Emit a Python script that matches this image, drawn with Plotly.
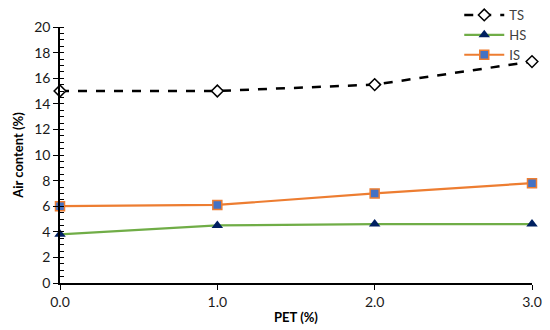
import plotly.graph_objects as go

pet = [0.0, 1.0, 2.0, 3.0]
ts = [15.0, 15.0, 15.5, 17.3]
hs = [3.8, 4.5, 4.6, 4.6]
is_ = [6.0, 6.1, 7.0, 7.8]

fig = go.Figure()
fig.add_trace(go.Scatter(x=pet, y=ts, name="TS", mode="lines+markers",
                         line=dict(color="black", width=2.5, dash="dash"),
                         marker=dict(symbol="diamond", size=9, color="white",
                                     line=dict(color="black", width=1.5)),
                         cliponaxis=False))
fig.add_trace(go.Scatter(x=pet, y=hs, name="HS", mode="lines+markers",
                         line=dict(color="#70AD47", width=2.2),
                         marker=dict(symbol="triangle-up", size=10, color="#002060"),
                         cliponaxis=False))
fig.add_trace(go.Scatter(x=pet, y=is_, name="IS", mode="lines+markers",
                         line=dict(color="#ED7D31", width=2.2),
                         marker=dict(symbol="square", size=9, color="#4472C4",
                                     line=dict(color="#ED7D31", width=1.5)),
                         cliponaxis=False))

font = "Lato, 'Liberation Sans', sans-serif"
fig.update_layout(
    width=550, height=330,
    margin=dict(l=60, r=18, t=27, b=47, autoexpand=False),
    plot_bgcolor="white", paper_bgcolor="white",
    font=dict(family=font, size=14, color="#1a1a1a"),
    showlegend=True,
    legend=dict(xref="container", yref="container", x=0.835, y=1.0,
                xanchor="left", yanchor="top",
                bgcolor="rgba(0,0,0,0)", font=dict(size=13, color="#404040"),
                tracegroupgap=0, itemwidth=40),
    xaxis=dict(range=[0, 3], tickvals=pet, ticktext=["0.0", "1.0", "2.0", "3.0"],
               showgrid=False, zeroline=False, showline=True, linecolor="black",
               linewidth=1.5, ticks="outside", ticklen=5, tickcolor="black",
               title=dict(text="<b>PET (%)</b>", standoff=4, font=dict(size=13, color="#000000"))),
    yaxis=dict(range=[0, 20], dtick=2, showgrid=False, zeroline=False,
               showline=True, linecolor="black", linewidth=1.5,
               ticks="outside", ticklen=5, tickcolor="black",
               minor=dict(dtick=0.5, ticks="inside", ticklen=4, tickcolor="black", showgrid=False),
               title=dict(text="<b>Air content (%)</b>", standoff=8, font=dict(size=13, color="#000000"))),
)
fig.write_html("out.html", config={"displayModeBar": False},
               post_script="document.body.style.margin='0';")
